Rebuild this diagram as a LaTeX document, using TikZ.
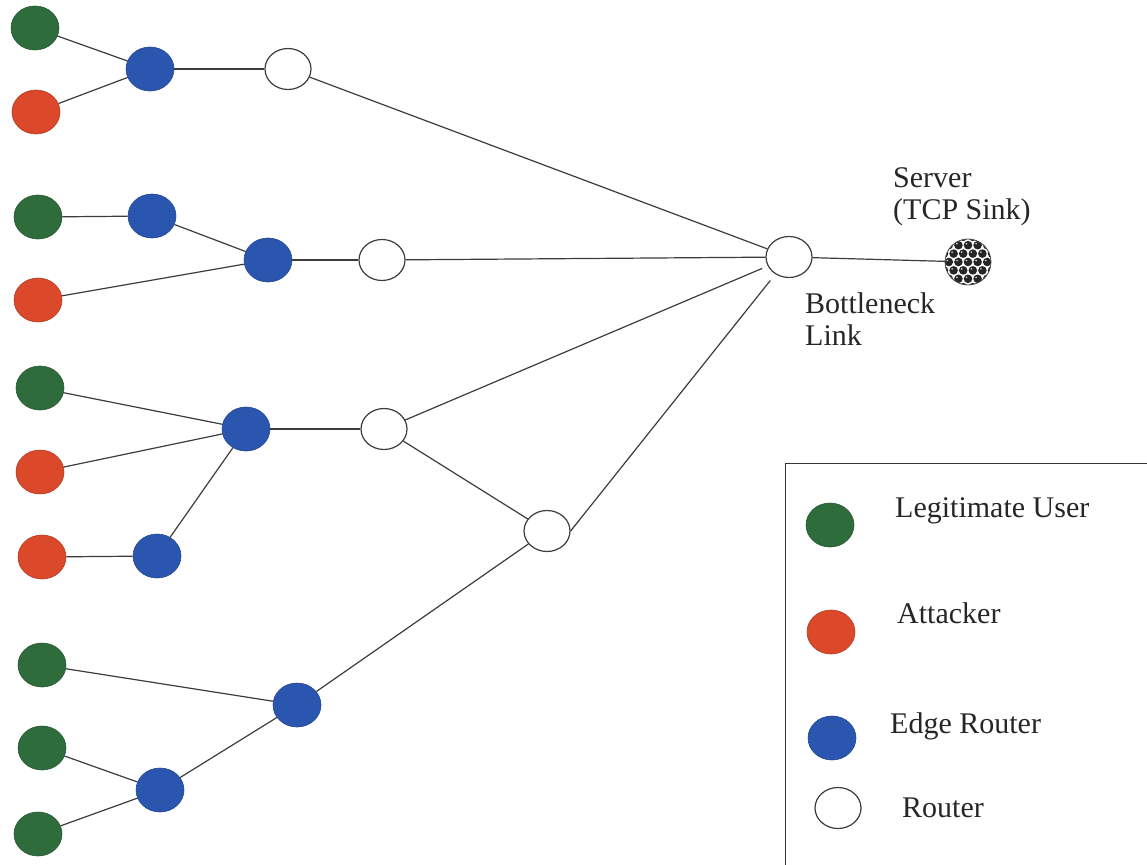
\documentclass[tikz,border=0pt]{standalone}
\usepackage{fontspec}
\setmainfont{Liberation Serif}
\usetikzlibrary{shapes.geometric,calc}
\definecolor{usergreen}{RGB}{46,108,60}
\definecolor{attackred}{RGB}{220,72,42}
\definecolor{edgeblue}{RGB}{42,86,176}
\definecolor{linkgray}{RGB}{60,60,60}
\tikzset{
  host/.style={ellipse, inner sep=0pt, minimum width=48pt, minimum height=44pt, draw=#1!80!black, line width=0.6pt, fill=#1},
  legit/.style={host=usergreen},
  attacker/.style={host=attackred},
  edgerouter/.style={host=edgeblue},
  router/.style={ellipse, inner sep=0pt, minimum width=46pt, minimum height=41pt, draw=linkgray, line width=1.2pt, fill=white},
  link/.style={draw=linkgray, line width=1.2pt},
  lbl/.style={font=\fontsize{30}{35}\selectfont, anchor=base west, inner sep=0pt, text=black!85}
}
\begin{document}
\begin{tikzpicture}[x=1pt,y=-1pt]
\useasboundingbox (0,0) rectangle (1147,864);
\clip (0,0) rectangle (1147,864);

% access networks
\node[legit] (g1) at (35,28) {};
\node[attacker] (r1) at (36,112) {};
\node[edgerouter] (b1) at (150,69) {};
\node[router] (w1) at (288,69) {};

\node[legit] (g2) at (38,217) {};
\node[edgerouter] (b2) at (152,216) {};
\node[edgerouter] (b3) at (268,260) {};
\node[attacker] (r2) at (38,300) {};
\node[router] (w2) at (382,260) {};

\node[legit] (g3) at (40,388) {};
\node[attacker] (r3) at (40,472) {};
\node[edgerouter] (b4) at (246,429) {};
\node[router] (w3) at (384,429) {};
\node[attacker] (r4) at (42,557) {};
\node[edgerouter] (b5) at (157,556) {};
\node[router] (w4) at (547,531) {};

\node[legit] (g4) at (42,665) {};
\node[edgerouter] (b6) at (297,705) {};
\node[legit] (g5) at (42,748) {};
\node[edgerouter] (b7) at (160,790) {};
\node[legit] (g6) at (38,834) {};

% bottleneck router and server
\node[router] (bn) at (789,257) {};
\node[circle, inner sep=0pt, minimum size=46pt] (srv) at (968,262) {};
\begin{scope}
  \clip (srv.center) circle (23pt);
  \fill[white] (srv.center) circle (23pt);
  \foreach \r in {-3,...,3}{
    \foreach \c in {-3,...,3}{
      \pgfmathsetmacro{\dx}{\c*9.6+mod(\r+10,2)*4.8}
      \pgfmathsetmacro{\dy}{\r*8.4}
      \fill[black!85] ($(srv.center)+(\dx,\dy)$) circle (4.3pt);
      \fill[white!70!gray] ($(srv.center)+(\dx,\dy)+(-1.5,-1.5)$) circle (0.9pt);
    }
  }
\end{scope}
\draw[black!70, line width=0.8pt] (srv.center) circle (23pt);

% links
\draw[link] (g1) -- (b1);
\draw[link] (r1) -- (b1);
\draw[link] (b1) -- (w1);
\draw[link] (w1) -- (bn);
\draw[link] (g2) -- (b2);
\draw[link] (b2) -- (b3);
\draw[link] (r2) -- (b3);
\draw[link] (b3) -- (w2);
\draw[link] (w2) -- (bn);
\draw[link] (g3) -- (b4);
\draw[link] (r3) -- (b4);
\draw[link] (r4) -- (b5);
\draw[link] (b5) -- (b4);
\draw[link] (b4) -- (w3);
\draw[link, shorten >=6pt] (w3) -- (bn);
\draw[link] (w3) -- (w4);
\draw[link, shorten >=8pt] (w4.east) -- (bn);
\draw[link] (g4) -- (b6);
\draw[link] (g5) -- (b7);
\draw[link] (g6) -- (b7);
\draw[link] (b7) -- (b6);
\draw[link] (b6) -- (w4);
\draw[link] (bn) -- (srv);

% labels
\node[lbl] (lsrv) at (893,187) {Server};
\node[lbl] (ltcp) at (893,219) {(TCP Sink)};
\node[lbl] (lbn) at (805,313) {Bottleneck};
\node[lbl] (llink) at (805,345) {Link};

% legend
\draw[black!80, line width=1pt] (785,463) rectangle (1170,900);
\node[legit] (kg) at (830,525) {};
\node[attacker] (kr) at (831,632) {};
\node[edgerouter] (kb) at (832,738) {};
\node[router] (kw) at (838,808) {};
\node[lbl] (tg) at (895,517) {Legitimate User};
\node[lbl] (tr) at (897,623) {Attacker};
\node[lbl] (tb) at (890,733) {Edge Router};
\node[lbl] (tw) at (902,817) {Router};
\end{tikzpicture}
\end{document}
